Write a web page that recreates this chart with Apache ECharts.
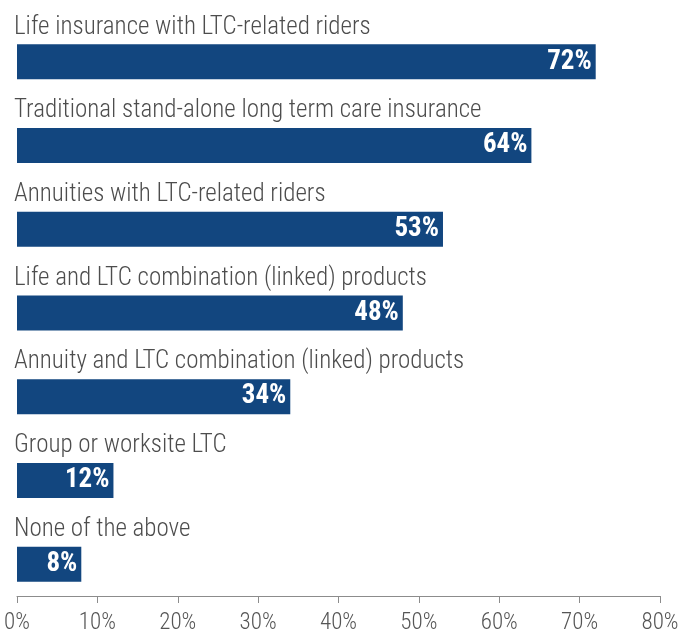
<!DOCTYPE html>
<html>
<head>
<meta charset="utf-8">
<script src="https://cdn.jsdelivr.net/npm/echarts@6/dist/echarts.min.js"></script>
<style>
  html, body { margin: 0; padding: 0; background: #fff; }
  #bar-chart { width: 690px; height: 635px; }
</style>
</head>
<body>
<div id="bar-chart"></div>
<script>
var categories = [
    'Life insurance with LTC-related riders',
    'Traditional stand-alone long term care insurance',
    'Annuities with LTC-related riders',
    'Life and LTC combination (linked) products',
    'Annuity and LTC combination (linked) products',
    'Group or worksite LTC',
    'None of the above'
];
var values = [72, 64, 53, 48, 34, 12, 8];
var tickValues = [0, 10, 20, 30, 40, 50, 60, 70, 80];

var myChart = echarts.init(document.getElementById('bar-chart'));
var font = '"Roboto Condensed", "Liberation Sans Narrow", "Roboto", sans-serif';

option = {
    animation: false,
    grid: { left: 17, right: 30, top: 20, bottom: 29 },
    xAxis: {
        type: 'value',
        min: tickValues[0],
        max: tickValues[tickValues.length - 1],
        interval: 10,
        offset: -10,
        splitLine: { show: false },
        axisLine: { show: true, lineStyle: { color: '#8c8c8c', width: 1 } },
        axisTick: { show: true, length: 7, lineStyle: { color: '#8c8c8c' } },
        axisLabel: {
            formatter: '{value}%',
            color: '#555',
            fontSize: 23,
            fontWeight: 300,
            fontFamily: font,
            margin: 16
        }
    },
    yAxis: {
        type: 'category',
        inverse: true,
        data: categories,
        axisLine: { show: false },
        axisTick: { show: false },
        axisLabel: {
            align: 'left',
            margin: 3,
            verticalAlign: 'bottom',
            padding: [0, 0, 22, 0],
            color: '#4d4d4d',
            fontSize: 25,
            fontWeight: 300,
            fontFamily: font
        }
    },
    series: [
        {
            type: 'bar',
            data: values,
            barWidth: 35,
            itemStyle: { color: '#12467f' },
            label: {
                show: true,
                position: 'insideRight',
                distance: 4,
                formatter: '{c}%',
                color: '#fff',
                fontWeight: 'bold',
                fontSize: 27,
                fontFamily: font
            }
        }
    ]
};

myChart.setOption(option, true);
</script>
</body>
</html>
